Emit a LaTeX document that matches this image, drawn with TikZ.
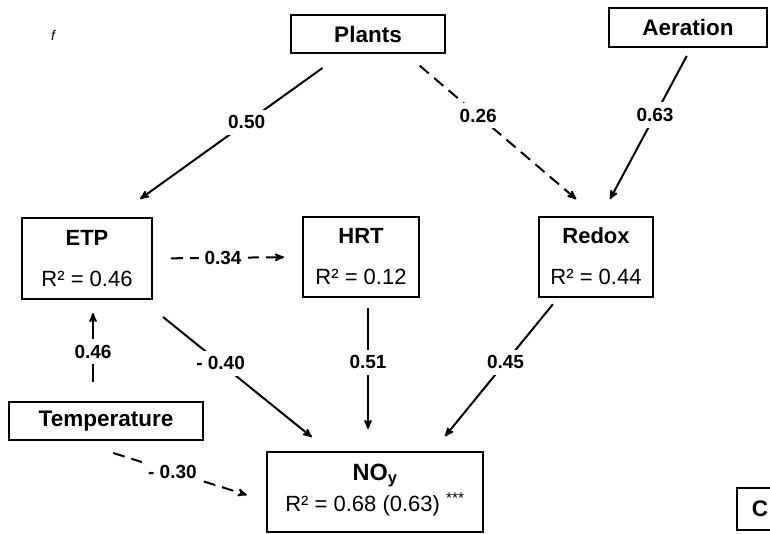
\documentclass[tikz,border=0pt]{standalone}
\usepackage{fontspec}
\setmainfont{Liberation Sans}
\usetikzlibrary{arrows,positioning}

\begin{document}
\begin{tikzpicture}[x=1pt,y=-1pt,->,>=stealth',line width=2pt,
        box/.style={draw,rectangle,inner sep=0pt,font=\bfseries\fontsize{22.5}{25}\selectfont},
        title/.style={anchor=base,font=\bfseries\fontsize{22}{25}\selectfont},
        rsq/.style={anchor=base,font=\fontsize{22}{25}\selectfont},
        coef/.style={fill=white,inner sep=6pt,font=\bfseries\fontsize{19}{22}\selectfont},
        broken/.style={dash pattern=on 12pt off 7pt}]

  \useasboundingbox (0,0) rectangle (770,534);

  \node[font=\itshape\fontsize{14}{15}\selectfont] (speck) at (53,35) {f};

  \node[box,minimum width=154pt,minimum height=38pt] (plants) at (368,34) {Plants};
  \node[box,minimum width=158pt,minimum height=39pt] (aeration) at (688,27.5) {Aeration};
  \node[box,minimum width=194pt,minimum height=38pt] (temp) at (106,421) {Temperature};

  \node[box,minimum width=130pt,minimum height=81pt] (etp) at (87,258.5) {};
  \node[title] (etp-t) at ([yshift=12.5pt]etp.center) {ETP};
  \node[rsq] (etp-r) at ([yshift=-28.5pt]etp.center) {R² = 0.46};

  \node[box,minimum width=116pt,minimum height=80pt] (hrt) at (361,257) {};
  \node[title] (hrt-t) at ([yshift=13pt]hrt.center) {HRT};
  \node[rsq] (hrt-r) at ([yshift=-28pt]hrt.center) {R² = 0.12};

  \node[box,minimum width=114pt,minimum height=80pt] (redox) at (596,257) {};
  \node[title] (redox-t) at ([yshift=13pt]redox.center) {Redox};
  \node[rsq] (redox-r) at ([yshift=-28pt]redox.center) {R² = 0.44};

  \node[box,minimum width=216pt,minimum height=80pt] (noy) at (375,492) {};
  \node[title,font=\bfseries\fontsize{23.5}{26}\selectfont] (noy-t) at ([yshift=12pt]noy.center) {NO\textsubscript{y}};
  \node[rsq] (noy-r) at ([yshift=-19pt]noy.center) {R² = 0.68 (0.63) \textsuperscript{***}};

  \node[box,minimum width=46pt,minimum height=42pt] (panel) at (760,509) {C};

  \path ([xshift=-26pt]plants.south) edge[shorten <=24pt,shorten >=31pt] node[coef,pos=0.42] {0.50} ([xshift=28pt]etp.north)
        ([xshift=38pt]plants.south) edge[broken,shorten <=18pt,shorten >=26pt] node[coef,pos=0.38] {0.26} (redox.north)
        ([xshift=3pt]aeration.south) edge[shorten <=9pt,shorten >=19pt] node[coef,pos=0.40] {0.63} ([xshift=5pt]redox.north)
        (etp.east) edge[broken,shorten <=18pt,shorten >=18pt] node[coef,pos=0.47] {0.34} (hrt.west)
        ([xshift=-13pt]temp.north) edge[shorten <=19pt,shorten >=13pt] node[coef,pos=0.49] {0.46} ([xshift=6pt]etp.south)
        ([xshift=55pt]etp.south) edge[shorten <=27pt,shorten >=22pt] node[coef,pos=0.42] {- 0.40} ([xshift=-46pt]noy.north)
        ([xshift=7pt]hrt.south) edge[shorten <=10pt,shorten >=22pt] node[coef,pos=0.42] {0.51} ([xshift=-7pt]noy.north)
        ([xshift=-38pt]redox.south) edge[shorten <=8pt,shorten >=19pt] node[coef,pos=0.42] {0.45} ([xshift=58pt]noy.north)
        ([xshift=-31pt]temp.south) edge[broken,shorten <=40pt,shorten >=20pt] node[coef,pos=0.51] {- 0.30} ([yshift=-9pt]noy.west);

\end{tikzpicture}
\end{document}
